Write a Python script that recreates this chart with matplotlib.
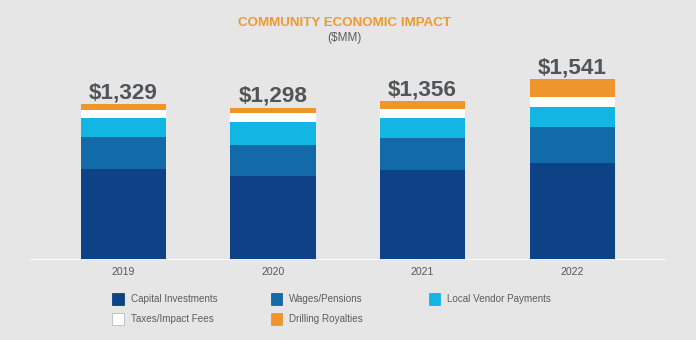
import numpy as np
import matplotlib.pyplot as plt
from matplotlib.patches import Rectangle

plt.rcParams['font.family'] = ['Liberation Sans', 'DejaVu Sans']

years = ['2019', '2020', '2021', '2022']
totals = [1329, 1298, 1356, 1541]

series_names = ['Capital Investments', 'Wages/Pensions', 'Local Vendor Payments',
                'Taxes/Impact Fees', 'Drilling Royalties']
capital = [775, 716, 770, 824]
wages = [270, 269, 273, 307]
vendor = [162, 196, 165, 173]
taxes = [71, 74, 80, 83]
royalties = [51, 43, 68, 154]

colors = ['#0d4286', '#136aa8', '#12b6e3', '#ffffff', '#ee962c']
bg = '#e5e6e5'
W, H = 696, 340

fig = plt.figure(figsize=(W / 100, H / 100), dpi=100, facecolor=bg)
ax = fig.add_axes([30 / W, 80 / H, 636 / W, 200 / H], facecolor=bg)

x = np.arange(len(years))
bottom = np.zeros(len(years))
for vals, c in zip([capital, wages, vendor, taxes, royalties], colors):
    ax.bar(x, vals, width=0.57, bottom=bottom, color=c, linewidth=0, zorder=2)
    bottom += np.array(vals)

# total labels above each stack
for i, t in enumerate(totals):
    ax.annotate(f'${t:,}', xy=(i, t), xytext=(0, 4.3), textcoords='offset points',
                ha='center', va='baseline', fontsize=16.2, fontweight='bold',
                color='#515557')

ax.set_xlim(-0.624, 3.626)
ax.set_ylim(0, 1706)
ax.axhline(0, color='white', lw=1.3, zorder=3)
for s in ax.spines.values():
    s.set_visible(False)
ax.set_yticks([])
ax.set_xticks(x, years)
ax.tick_params(axis='x', length=0, pad=5, labelsize=7.6, labelcolor='#555a5c')

fig.text(344 / W, (H - 26) / H, 'COMMUNITY ECONOMIC IMPACT', ha='center',
         va='baseline', fontsize=9.6, fontweight='bold', color='#ee9a2e')
fig.text(344 / W, (H - 40.7) / H, '($MM)', ha='center', va='baseline',
         fontsize=8.5, color='#5a5e60')

# legend laid out in two rows
sq = 11.4
legend_pos = [(112.3, 299), (270.7, 299), (428.7, 299), (112.3, 319), (270.7, 319)]
for name, c, (lx, ly) in zip(series_names, colors, legend_pos):
    edge = '#b9bbbc' if c == '#ffffff' else c
    fig.add_artist(Rectangle((lx / W, (H - ly - sq / 2) / H), sq / W, sq / H,
                             transform=fig.transFigure, facecolor=c,
                             edgecolor=edge, linewidth=0.6))
    fig.text((lx + sq + 7) / W, (H - ly) / H, name, ha='left', va='center',
             fontsize=7.1, color='#5a5e60')

fig.savefig('out.png', dpi=100, facecolor=bg)
